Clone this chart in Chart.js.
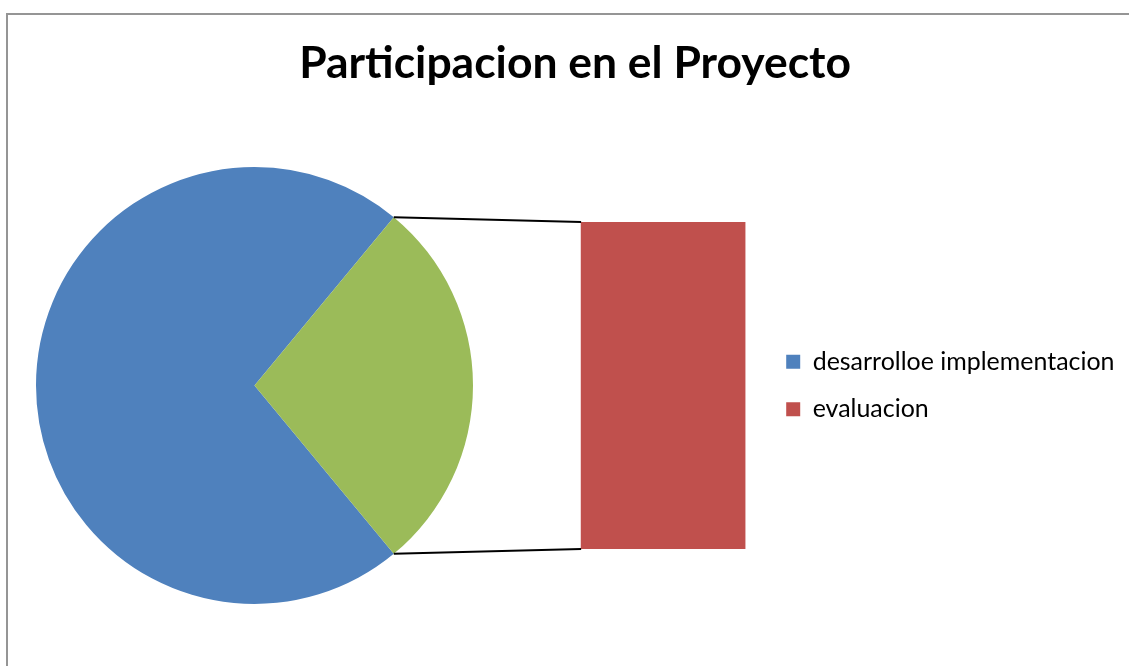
<!DOCTYPE html>
<html>
<head>
<meta charset="utf-8">
<script src="https://cdn.jsdelivr.net/npm/chart.js@4.4.1/dist/chart.umd.min.js"></script>
<style>
  html, body { margin: 0; padding: 0; background: #fff; }
  body { position: relative; width: 1129px; height: 666px; overflow: hidden; }
  #frame { position: absolute; left: 6px; top: 13px; width: 1300px; height: 800px;
           border-left: 2px solid #959595; border-top: 2px solid #959595; }
  canvas { position: absolute; top: 0; }
</style>
</head>
<body>
<div id="frame"></div>
<canvas id="pieChart"></canvas>
<canvas id="barChart"></canvas>
<script>
// data
var chartTitle = 'Participacion en el Proyecto';
var categories = ['desarrolloe implementacion', 'evaluacion'];
var shares = [72, 28];
var pieLabels = [categories[0], 'Otro'];
var barLabels = [categories[1]];
var pieColors = ['#4F81BD', '#9BBB59'];
var legendColors = ['#4F81BD', '#C0504D'];

var fontFamily = 'Lato';

// font size that gives the text a wanted width
function fitSize(text, weight, target) {
    var c = document.createElement('canvas').getContext('2d');
    c.font = weight + ' 100px ' + fontFamily;
    return 100 * target / c.measureText(text).width;
}

// Pie (left). The title sits right-aligned on this canvas so that it ends up
// centred over the whole chart while the pie stays on the left.
var titleWidth = 552;
var titleSize = fitSize(chartTitle, 'bold', titleWidth);
var titleLine = titleSize * 1.2;
var titleMid = 64;
var titleRight = 575 + titleWidth / 2;
var pieCx = 254.5;
var pieW = Math.round(2 * (titleRight - pieCx));
var pieX = titleRight - pieW;

var pieCanvas = document.getElementById('pieChart');
pieCanvas.width = pieW;
pieCanvas.height = 666;
pieCanvas.style.left = pieX + 'px';

var greenDeg = 360 * shares[1] / (shares[0] + shares[1]);

var pieChart = new Chart(pieCanvas.getContext('2d'), {
    type: 'pie',
    data: {
        labels: pieLabels,
        datasets: [{
            data: [shares[0], shares[1]],
            backgroundColor: pieColors,
            borderWidth: 0
        }]
    },
    options: {
        responsive: false,
        animation: false,
        rotation: 90 + greenDeg / 2,
        layout: { padding: { left: 0, right: 0, top: 0, bottom: 62 } },
        plugins: {
            legend: { display: false },
            tooltip: { enabled: false },
            title: {
                display: true,
                text: chartTitle,
                align: 'end',
                color: '#000',
                font: { family: fontFamily, size: titleSize, weight: 'bold', lineHeight: 1.2 },
                padding: { top: titleMid - titleLine / 2, bottom: 167 - titleMid - titleLine / 2 }
            }
        }
    }
});

// Bar (right) with the legend
var legendSize = fitSize(categories[0], 'normal', 302);
var legendBox = 14;
var legendPad = 47.7 - Math.max(legendSize, legendBox);
var legendLeft = 786 - legendPad;
var legendWidth = legendPad + legendBox + legendSize / 2 + 302 + 10;
var barCanvas = document.getElementById('barChart');
barCanvas.width = 1129;
barCanvas.height = 666;
barCanvas.style.left = '0px';

var connectorPlugin = {
    id: 'connector',
    afterDatasetsDraw: function (chart) {
        var arc = pieChart.getDatasetMeta(0).data[1];
        var bar = chart.getDatasetMeta(0).data[0];
        var ctx = chart.ctx;
        var ends = [[arc.startAngle, bar.y], [arc.endAngle, bar.base]];
        var barLeft = bar.x - bar.width / 2;
        ctx.save();
        ctx.strokeStyle = '#000';
        ctx.lineWidth = 2;
        ends.forEach(function (e) {
            ctx.beginPath();
            ctx.moveTo(pieX + arc.x + Math.cos(e[0]) * arc.outerRadius, arc.y + Math.sin(e[0]) * arc.outerRadius);
            ctx.lineTo(barLeft, e[1]);
            ctx.stroke();
        });
        ctx.restore();
    }
};

var barChart = new Chart(barCanvas.getContext('2d'), {
    type: 'bar',
    data: {
        labels: barLabels,
        datasets: [{
            label: categories[1],
            data: [shares[1]],
            backgroundColor: legendColors[1],
            barThickness: 164
        }]
    },
    options: {
        responsive: false,
        animation: false,
        layout: {
            padding: {
                left: 2 * 663 - legendLeft,
                right: 1129 - legendLeft - legendWidth,
                top: 222,
                bottom: 117
            }
        },
        scales: {
            x: { display: false },
            y: { display: false, min: 0, max: shares[1] }
        },
        plugins: {
            tooltip: { enabled: false },
            legend: {
                position: 'right',
                maxWidth: 600,
                labels: {
                    boxWidth: legendBox,
                    boxHeight: legendBox,
                    padding: legendPad,
                    color: '#000',
                    font: { family: fontFamily, size: legendSize },
                    generateLabels: function () {
                        return categories.map(function (c, i) {
                            return { text: c, fillStyle: legendColors[i], strokeStyle: legendColors[i], lineWidth: 0, hidden: false, index: i };
                        });
                    }
                }
            }
        }
    },
    plugins: [connectorPlugin]
});
</script>
</body>
</html>
